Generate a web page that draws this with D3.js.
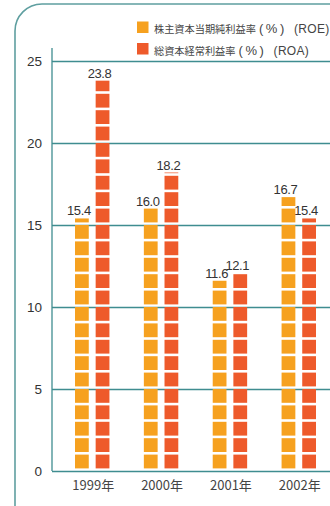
<!DOCTYPE html>
<html>
<head>
<meta charset="utf-8">
<script src="https://cdn.jsdelivr.net/npm/d3@7/dist/d3.min.js"></script>
<style>
  html, body { margin: 0; padding: 0; background: #fff; }
  svg { display: block; }
  .num { font-family: "Liberation Sans", Arial, sans-serif; fill: #333; }
  .jp { font-family: "Noto Sans CJK JP", "Noto Sans", sans-serif; fill: #444; }
  .lat { font-family: "Liberation Sans", Arial, sans-serif; fill: #444; }
</style>
</head>
<body>
<svg id="chart" width="330" height="506"></svg>
<script>
// Fiscal years shown on the x axis
const years = ["1999年", "2000年", "2001年", "2002年"];
// Return on equity (%)
const roe = [15.4, 16.0, 11.6, 16.7];
// Return on assets (%)
const roa = [23.8, 18.2, 12.1, 15.4];
// Y axis ticks
const yTicks = [0, 5, 10, 15, 20, 25];
// Series names and legend text, split into the Japanese name, unit and abbreviation
const seriesKeys = ["ROE", "ROA"];
const legendNames = ["株主資本当期純利益率", "総資本経常利益率"];
const legendUnits = ["(%)", "(%)"];
const legendAbbr = ["(ROE)", "(ROA)"];

const colors = { ROE: "#f6a11f", ROA: "#ee5a2b" };
const teal = "#3f8d90";

const svg = d3.select("#chart");
const W = 330, H = 506;
const axisX = 52;

// Rounded panel frame
svg.append("path")
  .attr("d", `M15,${H + 2} V31 A27,27 0 0 1 42,4 H${W + 2}`)
  .attr("fill", "none")
  .attr("stroke", "#5f9fa0")
  .attr("stroke-width", 1.6);

const y = d3.scaleLinear().domain([0, 25]).range([471, 61]);

const x0 = d3.scaleBand()
  .domain(years)
  .range([axisX, 339])
  .paddingInner(0.5)
  .paddingOuter(0.334);

const x1 = d3.scaleBand()
  .domain(seriesKeys)
  .range([0, x0.bandwidth()])
  .paddingInner(0.333)
  .paddingOuter(0);

// Gridlines and y tick labels
const yAxis = d3.axisLeft(y)
  .tickValues(yTicks)
  .tickSize(-(W - axisX + 5))
  .tickPadding(10)
  .tickFormat(d3.format("d"));

const gy = svg.append("g")
  .attr("transform", `translate(${axisX},0)`)
  .call(yAxis);
gy.select(".domain").remove();
gy.selectAll(".tick line").attr("stroke", teal).attr("stroke-width", 1.3);
gy.selectAll(".tick text")
  .attr("class", "num")
  .attr("font-size", 13.5)
  .attr("fill", "#333");

// Vertical axis line
svg.append("line")
  .attr("x1", axisX).attr("x2", axisX)
  .attr("y1", 48).attr("y2", y(0))
  .attr("stroke", teal).attr("stroke-width", 1.3);

// Bars built from stacked unit blocks
const rows = years.map((yr, i) => ({ year: yr, ROE: roe[i], ROA: roa[i] }));
const gap = 2.6;

rows.forEach(r => {
  seriesKeys.forEach(k => {
    const v = r[k];
    const bx = x0(r.year) + x1(k);
    const blocks = [];
    for (let s = 0; s < v; s++) blocks.push([s, Math.min(s + 1, v)]);
    svg.append("g").selectAll("rect")
      .data(blocks)
      .join("rect")
      .attr("x", bx)
      .attr("width", x1.bandwidth())
      .attr("y", d => y(d[1]))
      .attr("height", d => Math.max(0, y(d[0]) - y(d[1]) - gap))
      .attr("fill", colors[k]);

    svg.append("text")
      .attr("class", "num")
      .attr("x", bx + x1.bandwidth() / 2 - 3)
      .attr("y", y(v) - 3)
      .attr("text-anchor", "middle")
      .attr("font-size", 13)
      .attr("letter-spacing", -0.4)
      .text(d3.format(".1f")(v));
  });
});

// Year labels
svg.append("g").selectAll("text")
  .data(years)
  .join("text")
  .attr("class", "jp")
  .attr("x", d => x0(d) + x0.bandwidth() / 2 + 1)
  .attr("y", 490)
  .attr("text-anchor", "middle")
  .attr("font-size", 13)
  .attr("fill", "#333")
  .text(d => d);

// Legend: swatch, then one line holding the Japanese name, unit and abbreviation
const legend = svg.append("g");
const nameSize = 10.2;
seriesKeys.forEach((k, i) => {
  const ly = 33 + i * 21.5;
  legend.append("rect")
    .attr("x", 137).attr("y", 21.5 + i * 21.5)
    .attr("width", 11.5).attr("height", 11.5)
    .attr("fill", colors[k]);
  const t = legend.append("text")
    .attr("class", "jp")
    .attr("x", 154).attr("y", ly)
    .attr("font-size", nameSize);
  t.append("tspan").text(legendNames[i]);
  const ux = 154 + legendNames[i].length * nameSize + 3;
  t.append("tspan")
    .attr("class", "lat")
    .attr("x", ux)
    .attr("font-size", 13)
    .attr("letter-spacing", 2.5)
    .text(legendUnits[i]);
  t.append("tspan")
    .attr("class", "lat")
    .attr("x", ux + 35)
    .attr("font-size", 12)
    .attr("letter-spacing", 0.3)
    .text(legendAbbr[i]);
});
</script>
</body>
</html>
